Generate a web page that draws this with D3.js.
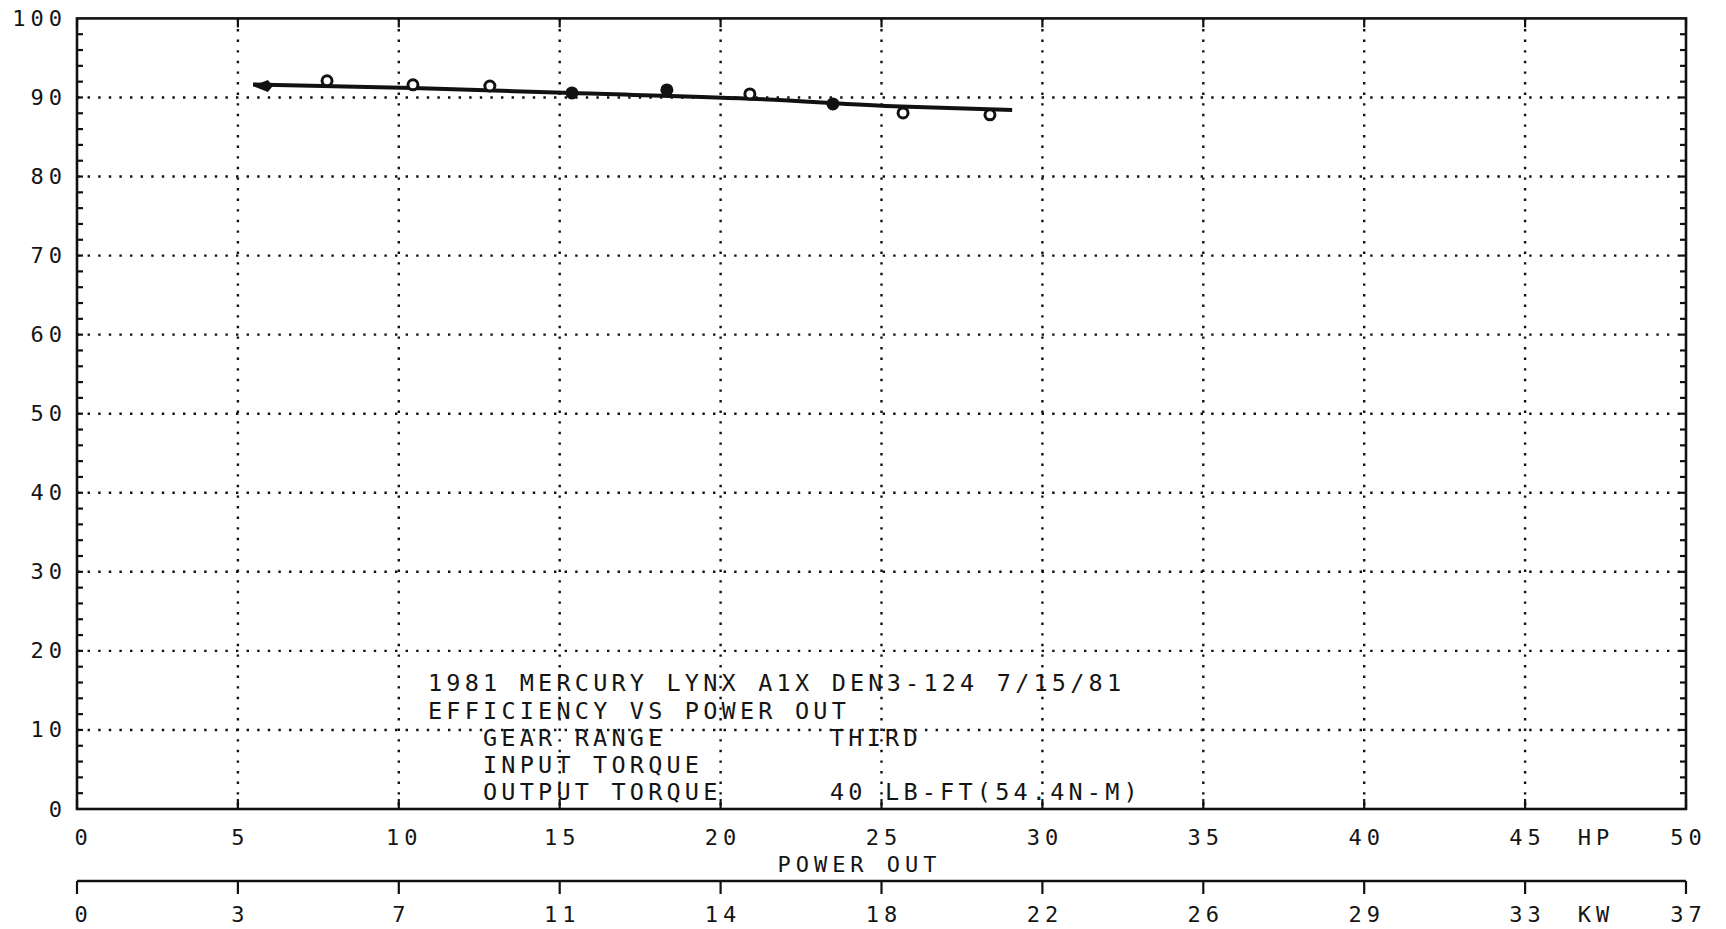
<!DOCTYPE html>
<html><head><meta charset="utf-8">
<script src="https://cdn.jsdelivr.net/npm/d3@7"></script>
<style>
html,body{margin:0;padding:0;background:#fff;}
svg text{font-family:"DejaVu Sans Mono",monospace;fill:#151515;}
</style></head><body>
<svg id="chart" width="1726" height="929"></svg>
<script>
// ---- data ----
const hpTicks = [0, 5, 10, 15, 20, 25, 30, 35, 40, 45, 50];
const hpTickLabels = ["0", "5", "10", "15", "20", "25", "30", "35", "40", "45", "50"];
const kwTickLabels = ["0", "3", "7", "11", "14", "18", "22", "26", "29", "33", "37"];
const effTicks = [0, 10, 20, 30, 40, 50, 60, 70, 80, 90, 100];
const effTickLabels = ["0", "10", "20", "30", "40", "50", "60", "70", "80", "90", "100"];
const effMinorTicks = d3.range(2, 100, 2);

const startPowerHP = [5.9];
const startEfficiency = [91.45];
const openPowerHP = [7.77, 10.44, 12.83, 20.91, 25.67, 28.37];
const openEfficiency = [92.1, 91.6, 91.45, 90.45, 88.05, 87.8];
const filledPowerHP = [15.38, 18.33, 23.49];
const filledEfficiency = [90.57, 90.95, 89.18];
const fitPowerHP = [5.47, 10.44, 15.4, 20.91, 25.6, 29.06];
const fitEfficiency = [91.65, 91.2, 90.55, 89.85, 88.85, 88.42];

const infoLeft = ["1981 MERCURY LYNX A1X DEN3-124 7/15/81", "EFFICIENCY VS POWER OUT"];
const infoLabels = ["GEAR RANGE", "INPUT TORQUE", "OUTPUT TORQUE"];
const infoValues = ["THIRD", "", "40 LB-FT(54.4N-M)"];
const xTitle = "POWER OUT";
const hpUnit = "HP";
const kwUnit = "KW";

// ---- layout ----
const svg = d3.select("#chart");
const L = 77, R = 1686, T = 18.4, B = 809;
const x = d3.scaleLinear().domain([0, 50]).range([L, R]);
const y = d3.scaleLinear().domain([0, 100]).range([B, T]);
const ink = "#111";
const fs = 22, ls = 5;

// grid (dotted)
const grid = svg.append("g").attr("stroke", ink).attr("stroke-width", 2.4)
  .attr("stroke-dasharray", "2.4,8.2").attr("fill", "none");
grid.selectAll("line.h").data(effTicks.filter(v => v > 0 && v < 100)).join("line")
  .attr("x1", L).attr("x2", R).attr("y1", d => y(d)).attr("y2", d => y(d));
grid.selectAll("line.v").data(hpTicks.filter(v => v > 0 && v < 50)).join("line")
  .attr("class", "v")
  .attr("y1", T).attr("y2", B).attr("x1", d => x(d)).attr("x2", d => x(d));

// frame
svg.append("rect").attr("x", L).attr("y", T).attr("width", R - L).attr("height", B - T)
  .attr("fill", "none").attr("stroke", ink).attr("stroke-width", 2.6);

// minor ticks on left/right, inward
const tk = svg.append("g").attr("stroke", ink).attr("stroke-width", 2.2);
tk.selectAll("line.l").data(effMinorTicks).join("line").attr("class", "l")
  .attr("x1", L).attr("x2", L + 6).attr("y1", d => y(d)).attr("y2", d => y(d));
tk.selectAll("line.r").data(effMinorTicks).join("line").attr("class", "r")
  .attr("x1", R).attr("x2", R - 6).attr("y1", d => y(d)).attr("y2", d => y(d));
tk.selectAll("line.t").data(hpTicks).join("line").attr("class", "t")
  .attr("x1", d => x(d)).attr("x2", d => x(d)).attr("y1", T).attr("y2", T + 9);
tk.selectAll("line.b").data(hpTicks).join("line").attr("class", "b")
  .attr("x1", d => x(d)).attr("x2", d => x(d)).attr("y1", B).attr("y2", B - 10);

// y labels
svg.append("g").selectAll("text").data(effTicks).join("text")
  .attr("x", 62 + ls).attr("y", d => y(d)).attr("text-anchor", "end")
  .attr("dominant-baseline", "central").attr("font-size", fs).attr("letter-spacing", ls)
  .text((d, i) => effTickLabels[i]);

// HP labels
const hpY = 837;
svg.append("g").selectAll("text").data(hpTicks).join("text")
  .attr("x", d => x(d) + ls / 2 + (d === 0 ? 4 : 0) + (d === 10 ? 3 : 0)).attr("y", hpY).attr("text-anchor", "middle")
  .attr("dominant-baseline", "central").attr("font-size", fs).attr("letter-spacing", ls)
  .text((d, i) => hpTickLabels[i]);
svg.append("text").attr("x", x(47.2)).attr("y", hpY).attr("text-anchor", "middle")
  .attr("dominant-baseline", "central").attr("font-size", fs).attr("letter-spacing", ls).text(hpUnit);
svg.append("text").attr("x", 857 + ls / 2).attr("y", 864).attr("text-anchor", "middle")
  .attr("dominant-baseline", "central").attr("font-size", fs).attr("letter-spacing", ls).text(xTitle);

// KW axis
const kwY = 881;
svg.append("line").attr("x1", L).attr("x2", R).attr("y1", kwY).attr("y2", kwY)
  .attr("stroke", ink).attr("stroke-width", 2.6);
svg.append("g").attr("stroke", ink).attr("stroke-width", 2.2).selectAll("line").data(hpTicks).join("line")
  .attr("x1", d => x(d)).attr("x2", d => x(d)).attr("y1", kwY).attr("y2", kwY + 13);
svg.append("g").selectAll("text").data(hpTicks).join("text")
  .attr("x", d => x(d) + ls / 2 + (d === 0 ? 4 : 0)).attr("y", 914).attr("text-anchor", "middle")
  .attr("dominant-baseline", "central").attr("font-size", fs).attr("letter-spacing", ls)
  .text((d, i) => kwTickLabels[i]);
svg.append("text").attr("x", x(47.2)).attr("y", 914).attr("text-anchor", "middle")
  .attr("dominant-baseline", "central").attr("font-size", fs).attr("letter-spacing", ls).text(kwUnit);

// info text block
const ifs = 23.5, ils = 4.2;
const lineYs = [683, 711, 738, 765, 792];
infoLeft.forEach((t, i) => svg.append("text").attr("x", 428).attr("y", lineYs[i])
  .attr("dominant-baseline", "central").attr("font-size", ifs).attr("letter-spacing", ils).text(t));
infoLabels.forEach((t, i) => svg.append("text").attr("x", 483).attr("y", lineYs[i + 2])
  .attr("dominant-baseline", "central").attr("font-size", ifs).attr("letter-spacing", ils).text(t));
infoValues.forEach((t, i) => svg.append("text").attr("x", 830).attr("y", lineYs[i + 2])
  .attr("dominant-baseline", "central").attr("font-size", ifs).attr("letter-spacing", ils).text(t));

// fitted line
const fit = fitPowerHP.map((p, i) => [p, fitEfficiency[i]]);
svg.append("path").datum(fit)
  .attr("d", d3.line().curve(d3.curveMonotoneX).x(d => x(d[0])).y(d => y(d[1])))
  .attr("fill", "none").attr("stroke", ink).attr("stroke-width", 4).attr("stroke-linejoin", "round");

// start arrowhead marker
startPowerHP.forEach((p, i) => {
  const cx = x(p), cy = y(startEfficiency[i]);
  svg.append("path").attr("d", `M${cx - 14},${cy} L${cx + 1},${cy - 6} L${cx + 6},${cy} L${cx + 1},${cy + 6} Z`)
    .attr("fill", ink);
});

// open markers
svg.append("g").selectAll("circle").data(openPowerHP).join("circle")
  .attr("cx", d => x(d)).attr("cy", (d, i) => y(openEfficiency[i])).attr("r", 5)
  .attr("fill", "#fff").attr("stroke", ink).attr("stroke-width", 3);
// filled markers
svg.append("g").selectAll("circle").data(filledPowerHP).join("circle")
  .attr("cx", d => x(d)).attr("cy", (d, i) => y(filledEfficiency[i])).attr("r", 6.5)
  .attr("fill", ink);
</script>
</body></html>
